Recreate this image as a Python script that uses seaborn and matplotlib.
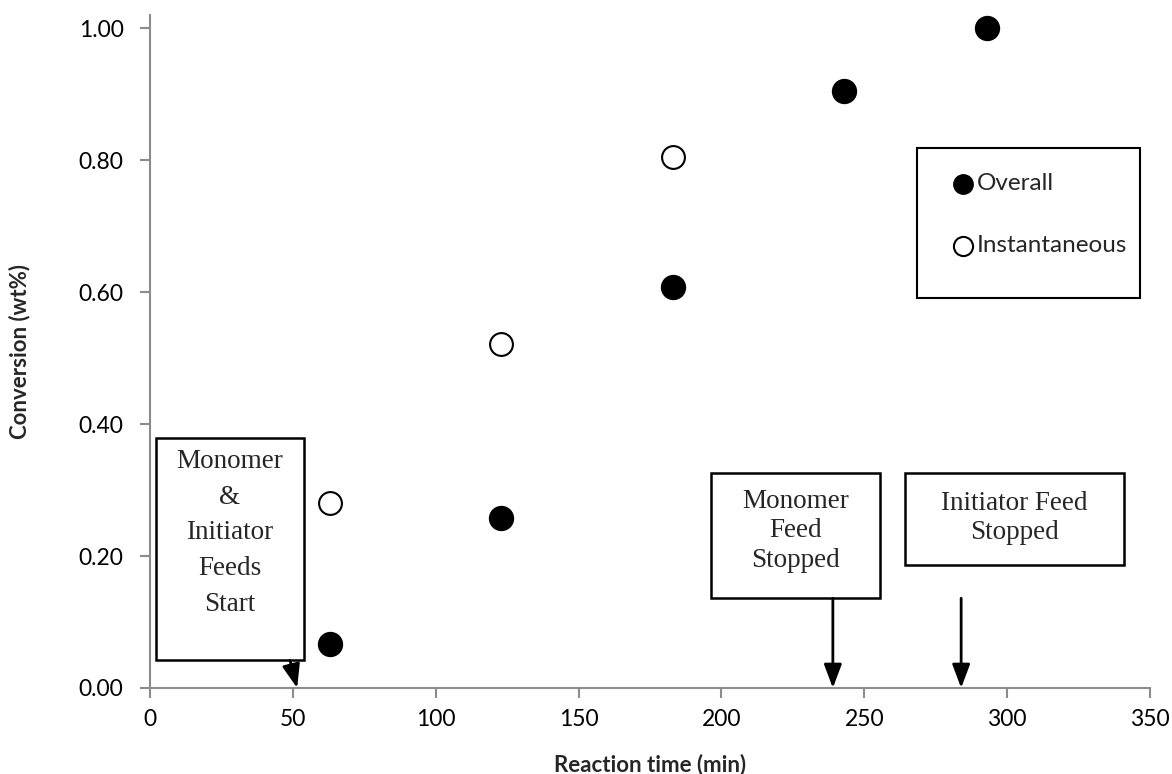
import matplotlib
matplotlib.use("Agg")
import matplotlib.pyplot as plt
import seaborn as sns
import pandas as pd
from matplotlib.patches import Rectangle

# Data
overall_time = [63, 123, 183, 243, 293]
overall_conv = [0.066, 0.257, 0.607, 0.905, 1.00]
inst_time = [63, 123, 183]
inst_conv = [0.280, 0.522, 0.805]
x_ticks = [0, 50, 100, 150, 200, 250, 300, 350]
y_ticks = [0.0, 0.2, 0.4, 0.6, 0.8, 1.0]

df = pd.DataFrame({
    "time": overall_time + inst_time,
    "conv": overall_conv + inst_conv,
    "series": ["Overall"] * len(overall_time) + ["Instantaneous"] * len(inst_time),
})

sns.set_theme(style="white")
plt.rcParams["font.family"] = ["Lato", "DejaVu Sans"]

W, H = 1172, 774
fig = plt.figure(figsize=(W / 100, H / 100), dpi=100)
ax = fig.add_axes([150 / W, 86 / H, 1000 / W, 673 / H])

sns.scatterplot(data=df[df.series == "Overall"], x="time", y="conv", ax=ax,
                s=290, color="black", edgecolor="black", linewidth=1.2,
                label="Overall", zorder=3)
sns.scatterplot(data=df[df.series == "Instantaneous"], x="time", y="conv", ax=ax,
                s=270, color="white", edgecolor="black", linewidth=1.5,
                label="Instantaneous", zorder=3)

ax.set_xlim(0, 350)
ax.set_ylim(0, 1.02)
ax.set_xticks(x_ticks)
ax.set_xticklabels([str(v) for v in x_ticks])
ax.set_yticks(y_ticks)
ax.set_yticklabels([f"{v:.2f}" for v in y_ticks])
ax.tick_params(axis="both", which="major", direction="out", length=7, width=1.5,
               color="#8c8c8c", labelsize=16.5, labelcolor="black")
ax.tick_params(axis="x", bottom=True, pad=8)
ax.tick_params(axis="y", left=True, pad=12)

for side in ["top", "right"]:
    ax.spines[side].set_visible(False)
for side in ["left", "bottom"]:
    ax.spines[side].set_color("#8c8c8c")
    ax.spines[side].set_linewidth(1.5)

ax.set_xlabel("Reaction time (min)", fontsize=16, fontweight="bold", labelpad=17)
ax.set_ylabel("Conversion (wt%)", fontsize=16, fontweight="bold", labelpad=35)

# Legend (frameless) with a square box drawn around it
leg = ax.legend(loc="upper left", bbox_to_anchor=(951 / W, 1 - 173 / H),
                bbox_transform=fig.transFigure, frameon=False, fontsize=17.5,
                borderpad=0, borderaxespad=0, labelspacing=1.69,
                handlelength=1.0, handletextpad=0.05)
for h in leg.legend_handles:
    h.set_sizes([190])
fig.patches.append(Rectangle((917 / W, 1 - 298 / H), 223 / W, 150 / H,
                             transform=fig.transFigure, facecolor="none",
                             edgecolor="black", linewidth=1.5, zorder=6))

serif = ["Liberation Serif", "DejaVu Serif"]
box_kw = dict(facecolor="white", edgecolor="black", linewidth=1.8)

boxes = [
    ((2.1, 0.0424), 51.8, 0.3366, (28.0, 0.235), "Monomer\n&\nInitiator\nFeeds\nStart", 1.57),
    ((196.4, 0.136), 59.1, 0.190, (225.9, 0.238), "Monomer\nFeed\nStopped", 1.22),
    ((264.3, 0.186), 76.6, 0.140, (302.6, 0.258), "Initiator Feed\nStopped", 1.22),
]
for (xy, w, h, tc, txt, ls) in boxes:
    ax.add_patch(Rectangle(xy, w, h, zorder=4, **box_kw))
    ax.text(tc[0], tc[1], txt, ha="center", va="center", fontsize=19.5,
            family=serif, linespacing=ls, zorder=5)

arrows = [((49.0, 0.042), (51.5, 0.0)),
          ((239.0, 0.136), (239.0, 0.0)),
          ((283.9, 0.136), (283.9, 0.0))]
for start, end in arrows:
    ax.annotate("", xy=end, xytext=start,
                arrowprops=dict(arrowstyle="-|>,head_length=1.2,head_width=0.45",
                                color="black", lw=2, shrinkA=0, shrinkB=0),
                zorder=5, annotation_clip=False)

fig.savefig("out.png", dpi=100)
